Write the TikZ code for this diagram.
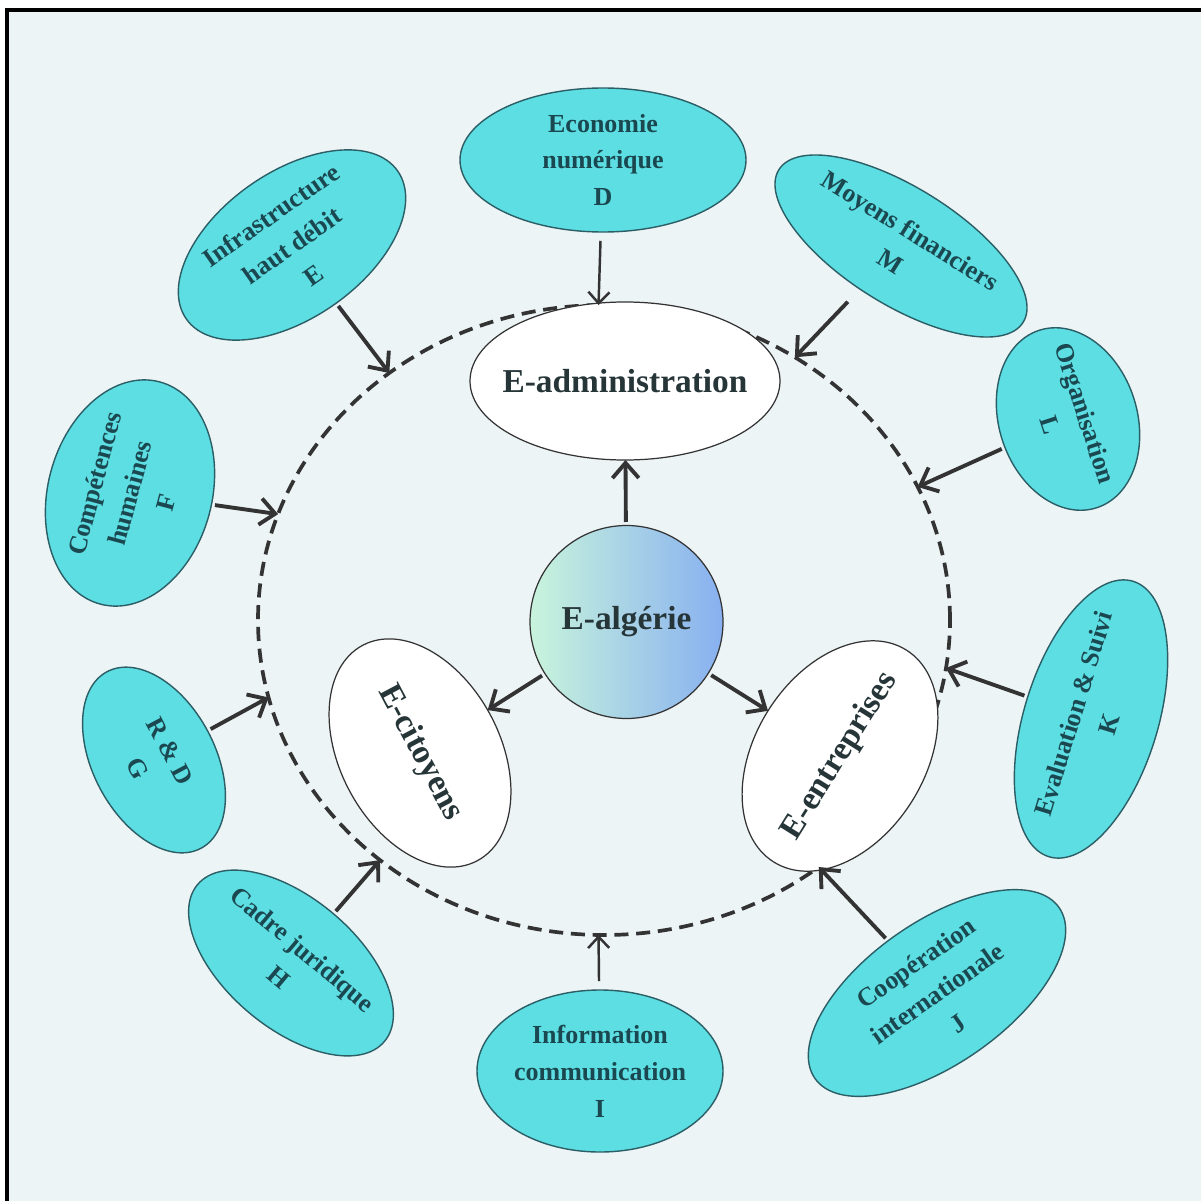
\documentclass[tikz,border=0pt]{standalone}
\usepackage{fontspec}
\setmainfont{Liberation Serif}
\usetikzlibrary{shapes.geometric,arrows.meta}

\definecolor{pagebg}{HTML}{EDF4F6}
\definecolor{bubble}{HTML}{5CDEE3}
\definecolor{bubbleline}{HTML}{2C5E66}
\definecolor{bubbletext}{HTML}{1B4850}
\definecolor{hubtext}{HTML}{263538}
\definecolor{arrowgrey}{HTML}{333333}
\definecolor{mint}{HTML}{C8F4DC}
\definecolor{skyblue}{HTML}{88B0F0}

\tikzset{
  factor/.style={ellipse, draw=bubbleline, line width=0.4pt, fill=bubble,
    text=bubbletext, font=\fontsize{7.4}{10.5}\selectfont\bfseries,
    align=center, inner sep=-2pt, outer sep=0pt},
  pole/.style={ellipse, draw=arrowgrey, line width=0.35pt, fill=white,
    text=hubtext, font=\fontsize{9.5}{11}\selectfont\bfseries,
    inner sep=-6pt, outer sep=0pt},
  hub/.style={circle, draw=arrowgrey, line width=0.35pt, left color=mint,
    right color=skyblue, text=hubtext, font=\fontsize{9.5}{11}\selectfont\bfseries,
    minimum size=1.93cm, inner sep=0pt, outer sep=0pt},
  frontier/.style={ellipse, draw=arrowgrey, line width=1.05pt,
    dash pattern=on 4pt off 2.2pt, inner sep=0pt, outer sep=0pt},
  feed/.style={draw=arrowgrey, line width=1.1pt,
    -{Straight Barb[length=4.3pt,width=7.5pt]}, shorten <=1pt},
  thinfeed/.style={draw=arrowgrey, line width=0.7pt,
    -{Straight Barb[length=3.2pt,width=6pt]}, shorten <=2.5pt},
}

\begin{document}
\begin{tikzpicture}
  \useasboundingbox (0,0) rectangle (12.01,-12.01);
  \fill[white] (0,0) rectangle (12.01,-12.01);
  \fill[pagebg] (0.07,-0.10) rectangle (12.01,-12.01);
  \draw[black, line width=0.9pt] (0.07,-12.01) -- (0.07,-0.10) -- (12.01,-0.10);

  \node[frontier, minimum width=6.92cm, minimum height=6.30cm] (frontier) at (6.04,-6.20) {};

  \node[pole, minimum width=3.10cm, minimum height=1.58cm] (eadmin) at (6.25,-3.81) {E-administration};
  \node[hub] (ealgerie) at (6.265,-6.22) {E-algérie};
  \node[pole, rotate=-62, minimum width=2.44cm, minimum height=1.60cm] (ecitoyens) at (4.20,-7.53) {E-citoyens};
  \node[pole, rotate=58, minimum width=2.50cm, minimum height=1.70cm] (eentreprises) at (8.40,-7.56) {E-entreprises};

  \node[factor, minimum width=2.86cm, minimum height=1.44cm] (econ) at (6.03,-1.60) {Economie\\numérique\\D};
  \node[factor, rotate=35, minimum width=2.58cm, minimum height=1.46cm] (infra) at (2.92,-2.45) {Infrastructure\\haut débit\\E};
  \node[factor, rotate=-32, minimum width=2.88cm, minimum height=1.17cm] (finance) at (9.01,-2.46) {Moyens financiers\\M};
  \node[factor, rotate=-72, minimum width=1.76cm, minimum height=1.38cm] (orga) at (10.68,-4.19) {Organisation\\L};
  \node[factor, rotate=73, minimum width=2.88cm, minimum height=1.34cm] (evalu) at (10.91,-7.19) {Evaluation \& Suivi\\K};
  \node[factor, rotate=35, minimum width=2.98cm, minimum height=1.42cm] (coop) at (9.37,-9.93) {Coopération\\internationale\\J};
  \node[factor, minimum width=2.46cm, minimum height=1.62cm] (info) at (6.00,-10.71) {Information\\communication\\I};
  \node[factor, rotate=-40, minimum width=2.44cm, minimum height=1.30cm] (cadre) at (2.91,-9.63) {Cadre juridique\\H};
  \node[factor, rotate=-62, minimum width=2.00cm, minimum height=1.22cm] (rd) at (1.54,-7.60) {R \& D\\G};
  \node[factor, rotate=75, minimum width=2.30cm, minimum height=1.64cm] (comp) at (1.30,-4.93) {Compétences\\humaines\\F};

  \draw[thinfeed] (econ) -- (frontier.91.6);
  \draw[feed] (infra) -- (frontier.131.4);
  \draw[feed, shorten <=5pt] (finance) -- (frontier.54);
  \draw[feed] (orga) -- (frontier.23.2);
  \draw[feed] (evalu) -- (frontier.352.4);
  \draw[feed] (coop) -- (frontier.311.3);
  \draw[thinfeed] (info) -- (frontier.269.3);
  \draw[feed] (cadre) -- (frontier.227.5);
  \draw[feed] (rd) -- (frontier.193.1);
  \draw[feed] (comp) -- (frontier.162.8);

  \draw[feed] (ealgerie) -- (eadmin);
  \draw[feed] (ealgerie) -- (ecitoyens);
  \draw[feed] (ealgerie) -- (eentreprises);
\end{tikzpicture}
\end{document}
